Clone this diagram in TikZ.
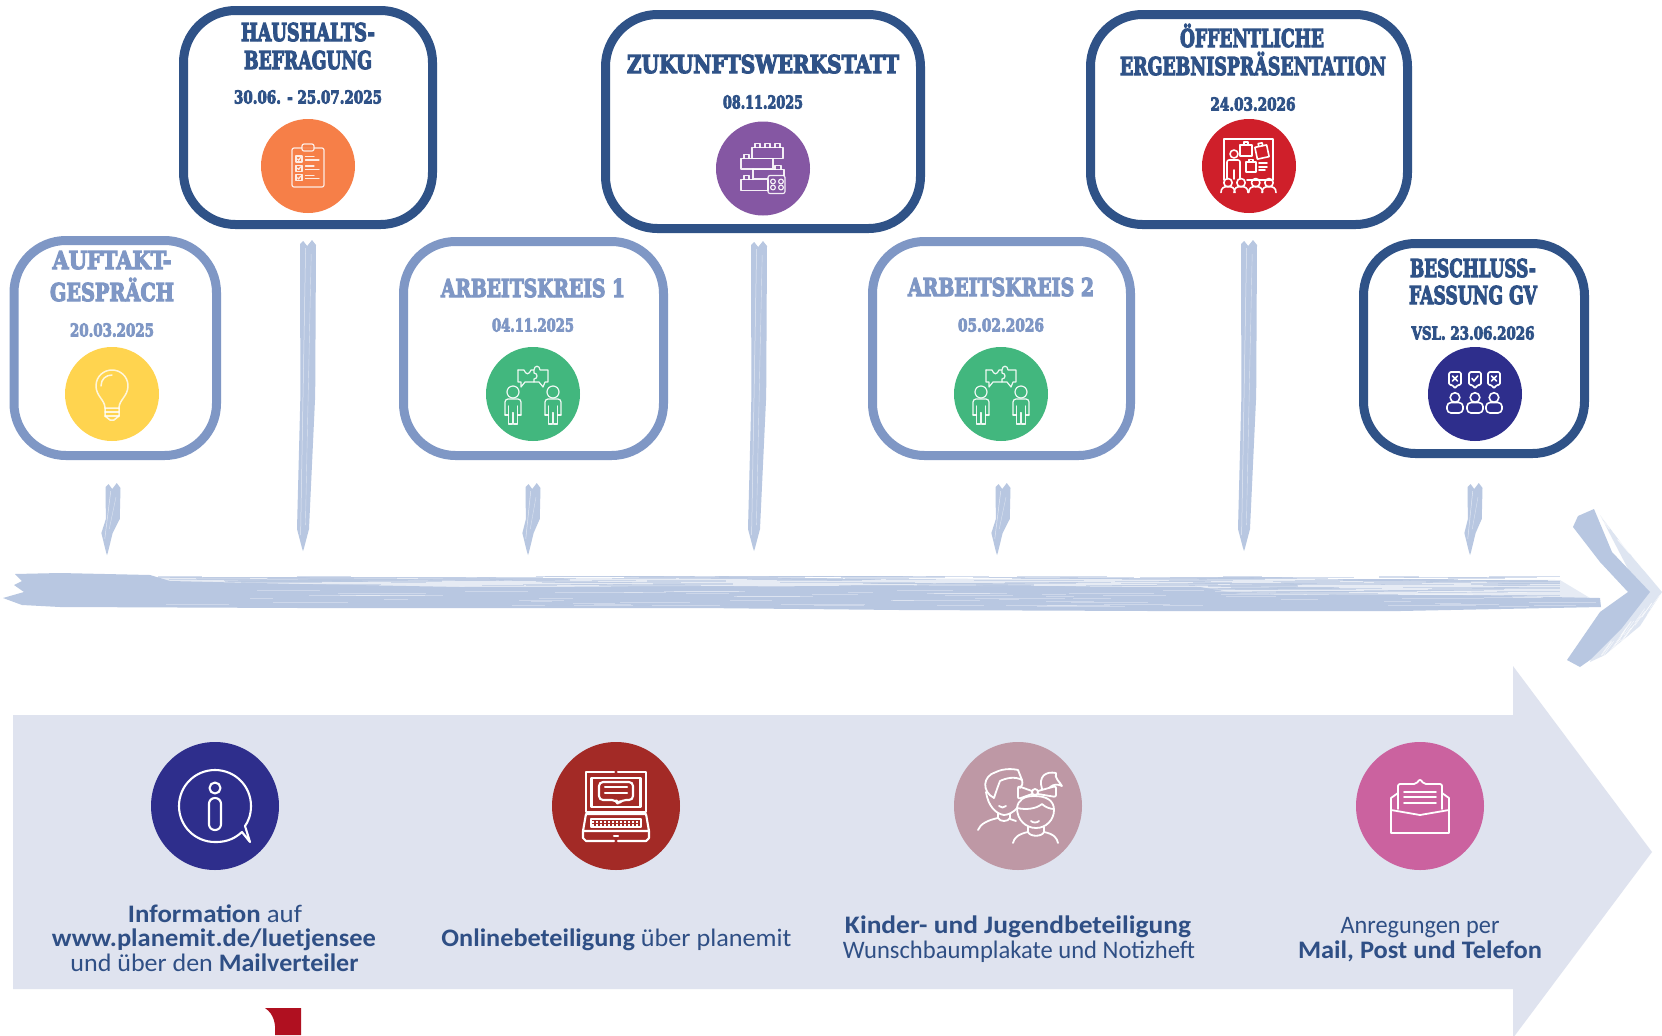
\documentclass[tikz,border=0pt]{standalone}
\usepackage{graphicx}
\usepackage{fontspec}
\setmainfont{Carlito}
\newfontfamily\headf[BoldFeatures={FakeBold=5}]{DejaVu Serif}
\usetikzlibrary{calc}
\definecolor{dk}{HTML}{2F5287}
\definecolor{lt}{HTML}{7F97C5}
\definecolor{brush}{HTML}{B8C7E1}
\definecolor{band}{HTML}{DFE3EF}
\definecolor{txt}{HTML}{2F4F85}
\definecolor{cyel}{HTML}{FFD44F}
\definecolor{cora}{HTML}{F67F48}
\definecolor{cgrn}{HTML}{42B77E}
\definecolor{cpur}{HTML}{8557A3}
\definecolor{cred}{HTML}{CF1F2A}
\definecolor{cnav}{HTML}{2E2E8C}
\definecolor{cdrd}{HTML}{A32A26}
\definecolor{cmau}{HTML}{BE98A5}
\definecolor{cpnk}{HTML}{CB629F}
\definecolor{logored}{HTML}{B01020}
\newdimen\pxu \pxu=0.5pt
\tikzset{
  evbox/.style={draw=#1,line width=4.5pt,fill=white,rounded corners=26pt,inner sep=0pt,rectangle},
  disc/.style={circle,fill=#1,inner sep=0pt,draw=none},
  ic/.style={draw=white,line width=0.6pt,line join=round,line cap=round},
  icb/.style={draw=white,line width=1.05pt,line join=round,line cap=round},
  lab/.style={anchor=base,inner sep=0pt,outer sep=0pt}
}
\newcommand\evb[6]{\node[evbox=#6,minimum width=#4\pxu,minimum height=#5\pxu] (#1) at (#2,#3) {};}
\newcommand\hd[6]{\node[lab,text=#5] (#1) at (#2,#3) {\resizebox{#4\pxu}{\height}{\headf\bfseries\fontsize{12.3pt}{12.3pt}\selectfont #6}};}
\newcommand\dt[6]{\node[lab,text=#5] (#1) at (#2,#3) {\resizebox{#4\pxu}{\height}{\headf\bfseries\fontsize{8.9pt}{8.9pt}\selectfont #6}};}
\newcommand\bt[5]{\node[lab,text=txt] (#1) at (#2,#3) {\resizebox{#4\pxu}{\height}{\fontsize{12.6pt}{12.6pt}\selectfont #5}};}
% tick: x top, y top, x tip, y tip, half width
\newcommand\brushtick[5]{%
  \fill[brush] ({#1-#5},{#2+4}) -- ({#1-#5*.6},{#2+1}) -- ({#1-#5*.1},{#2+6}) -- ({#1+#5*.5},{#2}) -- ({#1+#5},{#2+5})
    -- ({#1+#5*.9},{(#2+#4)/2}) -- ({#3+#5*.75},{#4-22}) -- ({#3+1},{#4-3}) -- (#3,#4) -- ({#3-1},{#4-3}) -- ({#3-#5*.75},{#4-22}) -- ({#1-#5*.95},{(#2+#4)/2}) -- cycle;
  \draw[white,line width=.25pt,opacity=.6] ({#1-#5*.3},{#2+8}) -- ({#3-#5*.3},{#4-16});
  \draw[white,line width=.2pt,opacity=.5] ({#1+#5*.4},{#2+14}) -- ({#3+#5*.3},{#4-26});
}
\newcommand\person[1]{%
  \begin{scope}[shift={(#1,0)}]
  \draw (0,-2) circle (6);
  \draw[rounded corners=1.5pt] (-8,21) -- (-8,5) -- (8,5) -- (8,21);
  \draw (-8,21) -- (-4.5,21) (8,21) -- (4.5,21);
  \draw (-4.5,12) -- (-4.5,30) -- (-0.8,30) -- (-0.8,19) -- (0.8,19) -- (0.8,30) -- (4.5,30) -- (4.5,12);
  \end{scope}
}
\newcommand\puzzlepeople{%
  \draw (-15,-24) -- (-9,-24) .. controls (-7,-19) and (-4,-19) .. (-2,-24) -- (1,-24) .. controls (1,-29) and (7,-29) .. (7,-24) -- (15,-24) -- (15,-12) -- (12,-12) -- (10,-7) -- (6,-12) -- (1,-12) -- (1,-15) .. controls (5,-15) and (5,-21) .. (1,-21) -- (1,-24);
  \draw (1,-12) -- (-8,-12) -- (-12,-7) -- (-12,-12) -- (-15,-12) -- (-15,-24);
  \person{-20}\person{20}
}
\begin{document}
\begin{tikzpicture}[x=0.5pt,y=-0.5pt]
\useasboundingbox (0,0) rectangle (1662,1035);
\fill[white] (0,0) rectangle (1662,1035);

% ---- timeline brush bar
\fill[brush,opacity=.35] (150,577) -- (1560,580) -- (1590,598) -- (150,598) -- cycle;
\fill[brush] (15,574) -- (60,573) -- (150,575) -- (170,581) -- (300,584) -- (460,587) -- (900,586) -- (1200,587) -- (1240,594) -- (1500,596) -- (1600,598) -- (1601,607) -- (1400,611) -- (1150,611) -- (900,610) -- (700,608) -- (300,608) -- (60,607) -- (22,605) -- (3,598) -- (24,592) -- (14,585) -- (22,581) -- cycle;
\pgfmathsetseed{42}
\foreach \i in {1,...,320}{
  \pgfmathsetmacro\xa{150+rnd*1360}
  \pgfmathsetmacro\ln{30+rnd*110}
  \pgfmathsetmacro\ya{576+rnd*20}
  \pgfmathsetmacro\lw{.25+rnd*.5}
  \draw[brush,line width=\lw pt,opacity=.6] (\xa,\ya) -- ({min(\xa+\ln,1560)},\ya);
}
\foreach \i in {1,...,70}{
  \pgfmathsetmacro\xa{160+rnd*1400}
  \pgfmathsetmacro\ln{20+rnd*70}
  \pgfmathsetmacro\ya{590+rnd*16}
  \draw[white,line width=.2pt,opacity=.3] (\xa,\ya) -- ({\xa+\ln},\ya);
}
% ---- chevron
\fill[brush,opacity=.45] (1600,515) -- (1625,548) -- (1662,592) -- (1640,626) -- (1605,655) -- (1590,662) -- (1610,610) -- (1640,592) -- cycle;
\fill[brush] (1594,509) -- (1612,552) -- (1650,592) -- (1622,628) -- (1590,660) -- (1580,667) -- (1567,660) -- (1600,612) -- (1628,592) -- (1600,562) -- (1573,527) -- (1578,516) -- cycle;
\foreach \i in {1,...,25}{
  \pgfmathsetmacro\ss{rnd}
  \pgfmathsetmacro\oo{rnd*12}
  \draw[white,line width=.25pt,opacity=.7] ({1596+\ss*60+\oo*.4},{515+\ss*75-\oo*.4}) -- ++(12,14);
  \draw[white,line width=.25pt,opacity=.7] ({1600+\ss*58+\oo*.4},{655-\ss*60+\oo*.4}) -- ++(10,-14);
}
% ---- ticks
\brushtick{113}{483}{107}{555}{7.5}
\brushtick{533}{483}{528}{555}{7.5}
\brushtick{1003}{483}{997}{555}{7.5}
\brushtick{1475}{483}{1470}{555}{7.5}
\brushtick{308}{240}{303}{551}{8}
\brushtick{759}{241}{754}{551}{8}
\brushtick{1249}{240}{1244}{551}{8}

% ---- big arrow
\fill[band] (13,715) -- (1513,715) -- (1513,666) -- (1652,852) -- (1513,1038) -- (1513,989) -- (13,989) -- cycle;
% ---- red fragment
\fill[logored] (265,1008) -- (301,1008) -- (301,1035) -- (275,1035) .. controls (276,1024) and (274,1014) .. (265,1008) -- cycle;

% ---- boxes
\evb{haus}{308}{117.5}{249}{214}{dk}
\evb{auft}{115.25}{348}{202.5}{215}{lt}
\evb{ak1}{533.5}{348.5}{260}{214}{lt}
\evb{zuk}{763}{121.5}{315}{214}{dk}
\evb{oef}{1249}{119.5}{317}{210}{dk}
\evb{ak2}{1001.5}{348.5}{258}{214}{lt}
\evb{bes}{1474}{348.5}{221}{210}{dk}

% ---- box texts
\hd{t1a}{112}{269}{119}{lt}{AUFTAKT-}
\hd{t1b}{112}{301}{124}{lt}{GESPRÄCH}
\dt{t1c}{112}{336.5}{84}{lt}{20.03.2025}
\hd{t2a}{308}{41}{134}{dk}{HAUSHALTS-}
\hd{t2b}{308}{69}{128}{dk}{BEFRAGUNG}
\dt{t2c}{308}{103.5}{148}{dk}{30.06. - 25.07.2025}
\hd{t3a}{533}{297}{184}{lt}{ARBEITSKREIS 1}
\dt{t3b}{533}{331.5}{82}{lt}{04.11.2025}
\hd{t4a}{763}{73}{272}{dk}{ZUKUNFTSWERKSTATT}
\dt{t4b}{763}{108.5}{80}{dk}{08.11.2025}
\hd{t5a}{1001}{296}{186}{lt}{ARBEITSKREIS 2}
\dt{t5b}{1001}{331.5}{86}{lt}{05.02.2026}
\hd{t6a}{1252}{47}{144}{dk}{ÖFFENTLICHE}
\hd{t6b}{1253}{75}{266}{dk}{ERGEBNISPRÄSENTATION}
\dt{t6c}{1253}{110.5}{85}{dk}{24.03.2026}
\hd{t7a}{1473}{277}{126}{dk}{BESCHLUSS-}
\hd{t7b}{1473}{304}{128}{dk}{FASSUNG GV}
\dt{t7c}{1473}{339.5}{123}{dk}{VSL. 23.06.2026}

% ---- discs
\node[disc=cyel,minimum size=47pt] (c1) at (112,394) {};
\node[disc=cora,minimum size=47pt] (c2) at (308,166) {};
\node[disc=cgrn,minimum size=47pt] (c3) at (533,394) {};
\node[disc=cpur,minimum size=47pt] (c4) at (763,168.5) {};
\node[disc=cgrn,minimum size=47pt] (c5) at (1001,394) {};
\node[disc=cred,minimum size=47pt] (c6) at (1249,166) {};
\node[disc=cnav,minimum size=47pt] (c7) at (1475,394) {};
\node[disc=cnav,minimum size=64pt] (d1) at (215,806) {};
\node[disc=cdrd,minimum size=64pt] (d2) at (616,806) {};
\node[disc=cmau,minimum size=64pt] (d3) at (1018,806) {};
\node[disc=cpnk,minimum size=64pt] (d4) at (1420,806) {};

% bulb
\begin{scope}[shift={(112,394)},every path/.style={draw=white,line width=.75pt,opacity=.8,line join=round,line cap=round}]
  \draw (-7,14) .. controls (-7,6) and (-16,2) .. (-16,-8) .. controls (-16,-18) and (-8,-24) .. (0,-24) .. controls (8,-24) and (16,-18) .. (16,-8) .. controls (16,2) and (7,6) .. (7,14) -- cycle;
  \draw (-11,-8) .. controls (-11,-15) and (-6,-19) .. (0,-19);
  \draw (-7,14) -- (-7,22) -- (-2,26) -- (2,26) -- (7,22) -- (7,14);
  \draw (-7,18) -- (7,18) (-7,22) -- (7,22);
\end{scope}
% clipboard
\begin{scope}[shift={(308,166)},every path/.style={ic,opacity=.85}]
  \draw[rounded corners=1pt] (-16,-18) rectangle (16,21);
  \draw[fill=cora,rounded corners=1pt] (-6,-22) rectangle (6,-15);
  \foreach \yy in {-10,-0.7,8.7}{
    \draw (-12,\yy) rectangle (-6,{\yy+6});
    \draw (-10.5,{\yy+3}) -- (-9.3,{\yy+4.3}) -- (-7.5,{\yy+1.5});
    \draw (-2.5,{\yy+.7}) -- (6,{\yy+.7}) (-2.5,{\yy+4}) -- (11,{\yy+4});
  }
\end{scope}
% puzzle people
\begin{scope}[shift={(533,394)},every path/.style={ic,opacity=.9}]
  \puzzlepeople
\end{scope}
\begin{scope}[shift={(1001,394)},every path/.style={ic,opacity=.9}]
  \puzzlepeople
\end{scope}
% lego
\begin{scope}[shift={(763,168.5)},every path/.style={ic,opacity=.9}]
  \draw (-11,-21) rectangle (20,-10);
  \draw (-8,-21) -- (-8,-25) -- (-3,-25) -- (-3,-21) (2,-21) -- (2,-25) -- (7,-25) -- (7,-21) (12,-21) -- (12,-25) -- (17,-25) -- (17,-21);
  \draw (-22,-10) rectangle (10,0.5);
  \draw (-19,-10) -- (-19,-14) -- (-14,-14) -- (-14,-10);
  \draw (-10,0.5) -- (-10,11) (-10,1) -- (21,1) -- (21,7) (-10,10) -- (5,10);
  \draw (12,1) -- (12,-3) -- (18,-3) -- (18,1);
  \draw (-22,11) rectangle (5,22);
  \draw (-19,11) -- (-19,7) -- (-14,7) -- (-14,11);
  \draw[rounded corners=1pt] (5,7) rectangle (22,25);
  \foreach \cx/\cy in {10/13,18/13,10/19,18/19}{\draw (\cx,\cy) circle (2.4);}
\end{scope}
% presentation
\begin{scope}[shift={(1249,166)},every path/.style={icb,line width=.8pt}]
  \draw (-25,14) -- (-25,-27) -- (24,-27) -- (24,14) -- (-2,14);
  \draw (-15,-12) circle (4);
  \draw[rounded corners=1pt] (-22,13) -- (-22,-6) -- (-9,-6) -- (-9,13);
  \draw (-15,4) -- (-15,13);
  \draw (-9,-21) rectangle (3,-10);
  \draw (-5,-21) -- (-5,-24) -- (-1,-24) -- (-1,-21);
  \draw[rotate around={12:(13,-14)}] (7,-20) rectangle (19,-8);
  \draw[rotate around={12:(13,-14)}] (11,-20) -- (11,-23) -- (15,-23) -- (15,-20);
  \draw (-3,-4) rectangle (7,6);
  \draw (0,-4) -- (0,-6.5) -- (4,-6.5) -- (4,-4);
  \draw (10,-3) -- (18,-3) (10,1) -- (18,1) (10,4) -- (16,4);
  \foreach \px in {-21,-8,6.7,20}{
    \draw (\px,16.7) circle (4.2);
    \draw ({\px-7},26.5) .. controls ({\px-7},22) and ({\px-4},20.5) .. (\px,20.5) .. controls ({\px+4},20.5) and ({\px+7},22) .. ({\px+7},26.5);
  }
\end{scope}
% votes
\begin{scope}[shift={(1475,394)},every path/.style={icb,line width=.8pt}]
  \foreach \px in {-20,0,19}{
    \draw[rounded corners=.8pt] ({\px-6},-22) -- ({\px+6},-22) -- ({\px+6},-9) -- ({\px+2},-9) -- (\px,-5) -- ({\px-2},-9) -- ({\px-6},-9) -- cycle;
    \draw (\px,3.5) circle (4.8);
    \draw[rounded corners=2pt] ({\px-8},19) -- ({\px-8},8.5) -- ({\px+8},8.5) -- ({\px+8},19) -- cycle;
  }
  \draw (-22.5,-18) -- (-17.5,-13) (-22.5,-13) -- (-17.5,-18);
  \draw (-3,-15.5) -- (-1,-13) -- (3,-18);
  \draw (16.5,-18) -- (21.5,-13) (16.5,-13) -- (21.5,-18);
\end{scope}
% info
\begin{scope}[shift={(215,806)},every path/.style={icb}]
  \draw (27,26) .. controls (17,35) and (8,36) .. (0,36) .. controls (-20,36) and (-36,20) .. (-36,0) .. controls (-36,-20) and (-20,-36) .. (0,-36) .. controls (20,-36) and (36,-20) .. (36,0) .. controls (36,9) and (33,16) .. (30,20) -- (35,36) -- cycle;
  \draw (0,-18) circle (5.5);
  \draw[rounded corners=2.9pt] (-6,-8) rectangle (6,24);
\end{scope}
% laptop
\begin{scope}[shift={(616,806)},every path/.style={icb}]
  \draw (-2,-34) -- (-30,-34) -- (-30,6) -- (30,6) -- (30,-34) -- (2,-34);
  \draw (-24.5,-28) rectangle (24.5,1);
  \draw[rounded corners=2pt] (-17,-24) -- (17,-24) -- (17,-6) -- (6,-6) -- (2,-2) -- (0,-6) -- (-17,-6) -- cycle;
  \draw (-11,-19) -- (11,-19) (-11,-13) -- (11,-13);
  \draw (-30,8) -- (30,8) -- (33,25) -- (-33,25) -- cycle;
  \draw (-25,13) rectangle (25,21);
  \foreach \yy in {15.5,18.5}{\draw[line width=1pt,line cap=butt,dash pattern=on 1pt off 1pt] (-24,\yy) -- (24,\yy);}
  \draw (-2,35) -- (-30,35) -- (-33,32) -- (-33,25) (2,35) -- (30,35) -- (33,32) -- (33,25);
  \draw (-2,30) -- (2,30);
\end{scope}
% kids
\begin{scope}[shift={(1018,806)},every path/.style={icb,line width=.9pt}]
  \draw (-24,-8) .. controls (-36,-14) and (-36,-30) .. (-22,-34) .. controls (-14,-38) and (-4,-37) .. (0,-36) -- (4,-26) .. controls (-3,-30) and (-12,-28) .. (-18,-25) .. controls (-20,-20) and (-22,-14) .. (-24,-8);
  \draw (-32,-14) .. controls (-30,0) and (-22,8) .. (-14,9) .. controls (-10,9) and (-4,6) .. (-1,2);
  \draw (4,-26) .. controls (5,-22) and (4,-20) .. (2,-18);
  \draw (-19,0) .. controls (-17,2) and (-14,2) .. (-12,0);
  \draw (-20,7) -- (-20,12) .. controls (-18,16) and (-10,16) .. (-8,12) -- (-8,8);
  \draw (-20,12) .. controls (-30,14) and (-38,18) .. (-40,24);
  \draw (-8,13) -- (-2,15);
  \draw (-1,2) .. controls (0,-6) and (6,-10) .. (16,-10) .. controls (28,-10) and (36,-6) .. (36,4) .. controls (36,14) and (28,22) .. (18,22) .. controls (8,22) and (-1,14) .. (-1,2);
  \draw (-1,2) .. controls (8,4) and (18,3) .. (24,-2) .. controls (27,1) and (32,3) .. (36,3);
  \draw (13,15) .. controls (15,17) and (19,17) .. (21,15);
  \draw (10,21) -- (10,26) .. controls (12,31) and (24,31) .. (26,26) -- (26,21);
  \draw (10,26) .. controls (0,28) and (-4,32) .. (-5,37);
  \draw (26,26) .. controls (36,28) and (39,32) .. (40,37);
  \draw (17,-14) circle (3);
  \draw[rounded corners=1pt] (14,-15) -- (0,-20) -- (0,-7) -- (14,-12);
  \draw[rounded corners=1pt] (20,-15) -- (38,-20) -- (38,-9) -- (20,-12);
  \draw (24,-17) .. controls (20,-30) and (28,-35) .. (38,-33) .. controls (36,-28) and (42,-24) .. (44,-20) .. controls (40,-22) and (36,-22) .. (32,-19);
\end{scope}
% envelope
\begin{scope}[shift={(1420,806)},every path/.style={icb,line width=.9pt}]
  \draw (-22,-13) -- (-29,-8) -- (-29,27) -- (29,27) -- (29,-8) -- (22,-13);
  \draw (-29,4) -- (0,9) -- (29,4);
  \draw[rounded corners=1pt] (-22,3) -- (-22,-22) -- (-4,-22) -- (0,-27) -- (4,-22) -- (22,-22) -- (22,3);
  \draw (-16,-14) -- (16,-14) (-16,-9) -- (16,-9) (-16,-3) -- (16,-3);
\end{scope}

% ---- bottom texts
\bt{b1a}{215}{922}{174}{\textbf{Information} auf}
\bt{b1b}{214}{946}{324}{\textbf{www.planemit.de/luetjensee}}
\bt{b1c}{214.5}{971}{288}{und über den \textbf{Mailverteiler}}
\bt{b2a}{616.5}{946}{350}{\textbf{Onlinebeteiligung} über planemit}
\bt{b3a}{1018}{933}{346}{\textbf{Kinder- und Jugendbeteiligung}}
\bt{b3b}{1019}{958}{352}{Wunschbaumplakate und Notizheft}
\bt{b4a}{1420}{933}{159}{Anregungen per}
\bt{b4b}{1420}{958}{244}{\textbf{Mail, Post und Telefon}}
\end{tikzpicture}
\end{document}
